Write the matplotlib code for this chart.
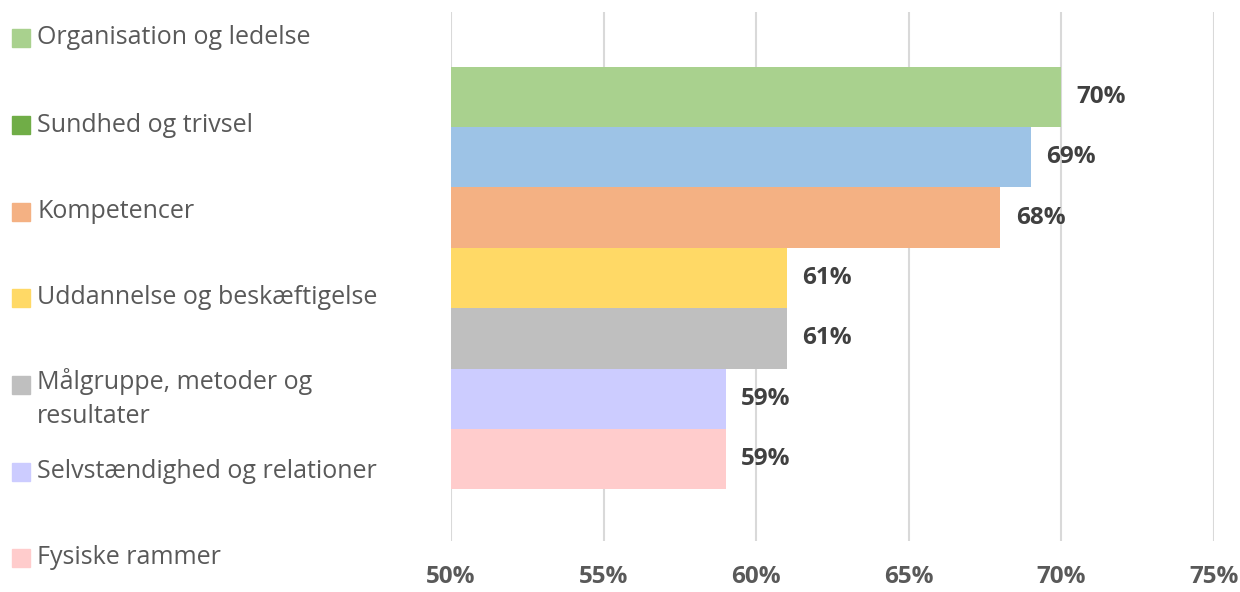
import matplotlib.pyplot as plt
from matplotlib.patches import Rectangle
from matplotlib.ticker import FuncFormatter

plt.rcParams['font.family'] = ['Open Sans', 'DejaVu Sans']

# Data
categories = ['Organisation og ledelse', 'Sundhed og trivsel', 'Kompetencer',
              'Uddannelse og beskæftigelse', 'Målgruppe, metoder og\nresultater',
              'Selvstændighed og relationer', 'Fysiske rammer']
values = [70, 69, 68, 61, 61, 59, 59]
labels = ['70%', '69%', '68%', '61%', '61%', '59%', '59%']
bar_colors = ['#A9D18E', '#9DC3E6', '#F4B183', '#FFD966', '#BFBFBF', '#CCCCFF', '#FFCCCC']
legend_colors = ['#A9D18E', '#70AD47', '#F4B183', '#FFD966', '#BFBFBF', '#CCCCFF', '#FFCCCC']
xticks = [50, 55, 60, 65, 70, 75]

fig = plt.figure(figsize=(12.4, 5.92), dpi=100)
ax = fig.add_axes([451 / 1240, 1 - 541 / 592, (1214 - 451) / 1240, (541 - 12) / 592])

n = len(values)
ypos = list(range(n - 1, -1, -1))
ax.barh(ypos, [v - 50 for v in values], left=50, height=1.0, color=bar_colors, zorder=2)

# value labels
for y, v, lab in zip(ypos, values, labels):
    ax.annotate(lab, (v, y), xytext=(11, 0), textcoords='offset points',
                va='center', ha='left', fontsize=17.5, fontweight='bold', color='#404040')

ax.set_xlim(50, 75)
ax.set_ylim(-0.5 - 0.855, n - 0.5 + 0.904)
ax.set_xticks(xticks)
ax.xaxis.set_major_formatter(FuncFormatter(lambda x, p: f'{x:.0f}%'))
ax.set_yticks([])
ax.grid(axis='x', color='#D9D9D9', linewidth=1.5, zorder=0)
ax.tick_params(axis='x', length=0, pad=17, labelsize=17.5, labelcolor='#595959')
for t in ax.get_xticklabels():
    t.set_fontweight('bold')
for s in ax.spines.values():
    s.set_visible(False)

# Legend on the left
legend_y = [38, 125, 212, 298, 385, 472, 558]
for c, name, y in zip(legend_colors, categories, legend_y):
    fig.patches.append(Rectangle((12 / 1240, 1 - (y + 9) / 592), 18 / 1240, 18 / 592,
                                 transform=fig.transFigure, color=c))
    if '\n' in name:
        fig.text(37 / 1240, 1 - (y - 17) / 592, name, fontsize=18, color='#595959',
                 va='top', ha='left', linespacing=1.45)
    else:
        fig.text(37 / 1240, 1 - y / 592, name, fontsize=18, color='#595959',
                 va='center', ha='left')

fig.savefig('out.png', dpi=100)
